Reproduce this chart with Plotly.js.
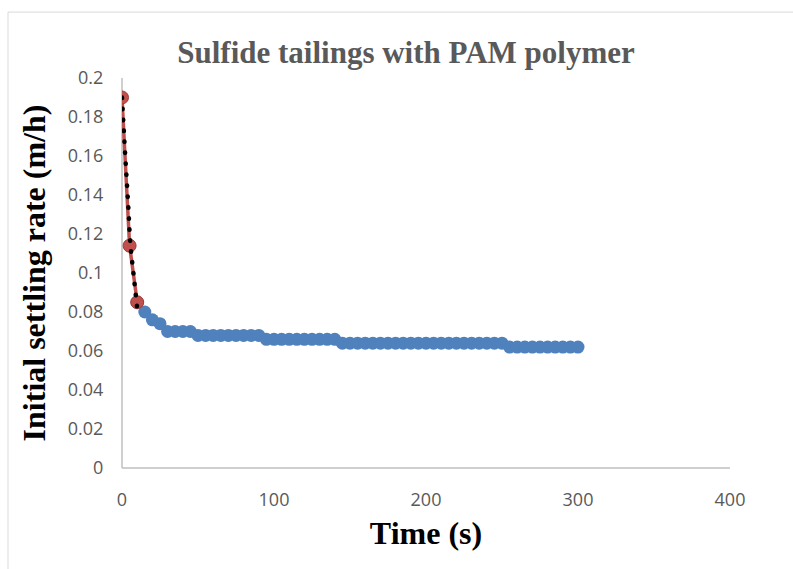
<!DOCTYPE html>
<html>
<head>
<meta charset="utf-8">
<script src="https://cdn.plot.ly/plotly-3.0.1.min.js"></script>
<style>html,body{margin:0;padding:0;background:#fff;}#chart{width:793px;height:569px;}</style>
</head>
<body>
<div id="chart"></div>
<script>
// Red (initial) series
var redX = [0, 5, 10];
var redY = [0.19, 0.114, 0.085];
// Blue (settled) series
var blueX = [10, 15, 20, 25, 30, 35, 40, 45, 50, 55, 60, 65, 70, 75, 80, 85, 90,
  95, 100, 105, 110, 115, 120, 125, 130, 135, 140,
  145, 150, 155, 160, 165, 170, 175, 180, 185, 190, 195, 200, 205, 210, 215, 220, 225, 230, 235, 240, 245, 250,
  255, 260, 265, 270, 275, 280, 285, 290, 295, 300];
var blueY = [0.085, 0.080, 0.076, 0.074, 0.070, 0.070, 0.070, 0.070, 0.068, 0.068, 0.068, 0.068, 0.068, 0.068, 0.068, 0.068, 0.068,
  0.066, 0.066, 0.066, 0.066, 0.066, 0.066, 0.066, 0.066, 0.066, 0.066,
  0.064, 0.064, 0.064, 0.064, 0.064, 0.064, 0.064, 0.064, 0.064, 0.064, 0.064, 0.064, 0.064, 0.064, 0.064, 0.064, 0.064, 0.064, 0.064, 0.064, 0.064, 0.064,
  0.062, 0.062, 0.062, 0.062, 0.062, 0.062, 0.062, 0.062, 0.062, 0.062];
// Trendline of the red series
var trendX = [0, 2, 4, 5.6, 7.5, 10.4];
var trendY = [0.19, 0.162, 0.136, 0.114, 0.100, 0.079];
var chartTitle = 'Sulfide tailings with PAM polymer';
var xTitle = 'Time (s)';
var yTitle = 'Initial settling rate (m/h)';

var traces = [
  {x: blueX, y: blueY, type: 'scatter', mode: 'markers',
   marker: {color: '#4f81bd', size: 13, line: {width: 0}}, hoverinfo: 'skip'},
  {x: redX, y: redY, type: 'scatter', mode: 'lines+markers',
   line: {color: '#c0504d', width: 3.5},
   marker: {color: '#c0504d', size: 13, line: {color: '#9e3a37', width: 1}}, hoverinfo: 'skip'},
  {x: trendX, y: trendY, type: 'scatter', mode: 'lines', line: {color: '#000000', width: 4.5, dash: '0.5px,10.5px', shape: 'spline'}, hoverinfo: 'skip'}
];

var layout = {
  width: 793, height: 569,
  margin: {l: 122, r: 63, t: 78, b: 101},
  paper_bgcolor: '#ffffff', plot_bgcolor: '#ffffff',
  showlegend: false,
  title: {text: '<b>' + chartTitle + '</b>', x: 0.512, xanchor: 'center', y: 0.908, yanchor: 'middle',
    font: {family: 'Liberation Serif', size: 31, color: '#595959'}},
  xaxis: {range: [0, 400], dtick: 100, tick0: 0, showgrid: false, zeroline: false,
    showline: false, ticks: 'outside', ticklen: 15, tickcolor: 'rgba(0,0,0,0)',
    tickfont: {family: 'Open Sans', size: 18, color: '#595959'},
    title: {text: '<b>' + xTitle + '</b>', standoff: 12, font: {family: 'Liberation Serif', size: 32, color: '#000000'}}},
  yaxis: {range: [0, 0.2], dtick: 0.02, tick0: 0, showgrid: false, zeroline: false,
    showline: false, ticks: 'outside', ticklen: 14, tickcolor: 'rgba(0,0,0,0)',
    tickfont: {family: 'Open Sans', size: 18, color: '#595959'},
    title: {text: '<b>' + yTitle + '</b>', standoff: 12, font: {family: 'Liberation Serif', size: 32, color: '#000000'}}},
  shapes: [
    {type: 'line', xref: 'paper', yref: 'paper', x0: 0, x1: 1, y0: 0, y1: 0, line: {color: '#bfbfbf', width: 1.5}, layer: 'below'},
    {type: 'line', xref: 'paper', yref: 'paper', x0: 0, x1: 0, y0: 0, y1: 1, line: {color: '#bfbfbf', width: 1.5}, layer: 'below'},
    {type: 'rect', xref: 'paper', yref: 'paper', x0: -0.1875, x1: 1.12, y0: -0.27, y1: 1.169, line: {color: '#d9d9d9', width: 1}, layer: 'below'}
  ]
};
Plotly.newPlot('chart', traces, layout, {staticPlot: true, displayModeBar: false}).then(function (gd) {
  var tr = gd.querySelectorAll('.scatterlayer .trace');
  if (tr.length > 2) {
    var p = tr[2].querySelector('path.js-line');
    if (p) { p.style.strokeLinecap = 'round'; }
  }
});
</script>
</body>
</html>
